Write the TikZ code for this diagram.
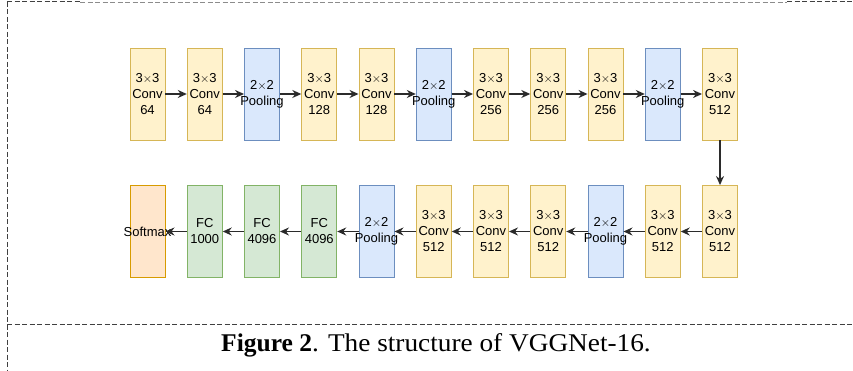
\documentclass[tikz,border=0pt]{standalone}
\usepackage{tikz}
\usetikzlibrary{arrows.meta,positioning}
\usepackage{fontspec}
\setmainfont{Liberation Serif}
\newfontfamily\boxfont{Liberation Sans}
\newfontfamily\capfont[FakeStretch=1.07]{Liberation Serif}
\usepackage{xcolor}
\definecolor{convfill}{HTML}{FFF2CC}
\definecolor{convdraw}{HTML}{D6B656}
\definecolor{poolfill}{HTML}{DAE8FC}
\definecolor{pooldraw}{HTML}{6C8EBF}
\definecolor{fcfill}{HTML}{D5E8D4}
\definecolor{fcdraw}{HTML}{82B366}
\definecolor{smfill}{HTML}{FFE6CC}
\definecolor{smdraw}{HTML}{D79B00}
\definecolor{arrowgray}{HTML}{2B2B2B}
\tikzset{layer/.style={rectangle,minimum width=35pt,minimum height=92pt,inner xsep=-12pt,
    inner ysep=0pt,align=center,line width=0.9pt,font=\boxfont\fontsize{13}{16}\selectfont}}
\tikzset{convbox/.style={layer,fill=convfill,draw=convdraw}}
\tikzset{poolbox/.style={layer,fill=poolfill,draw=pooldraw}}
\tikzset{fcbox/.style={layer,fill=fcfill,draw=fcdraw}}
\tikzset{smbox/.style={layer,fill=smfill,draw=smdraw}}
\tikzset{flow/.style={-{Stealth[length=9pt,width=8pt]},line width=1.4pt,draw=arrowgray}}
\tikzset{frame/.style={dashed,dash pattern=on 5pt off 2.5pt,line width=1pt,draw=black!75}}
\newcommand{\cv}[1]{3$\times$3\\Conv\\#1}
\newcommand{\pl}{2$\times$2\\Pooling}

\begin{document}
\begin{tikzpicture}[x=1pt,y=-1pt]
\useasboundingbox (0,0) rectangle (853,371);
% frame of the figure
\draw[frame] (7,2) -- (80,2);
\draw[frame,draw=black!45,line width=0.8pt] (80,2) -- (787,2);
\draw[frame] (787,2) -- (853,2);
\draw[frame] (7,2) -- (7,371);
\draw[frame] (7,324) -- (853,324);
%
% first row
\node (c1) [convbox] at (147.5,94) {\cv{64}};
\node (c2) [convbox] at (204.75,94) {\cv{64}};
\node (p1) [poolbox] at (262,94) {\pl};
\node (c3) [convbox] at (319.25,94) {\cv{128}};
\node (c4) [convbox] at (376.5,94) {\cv{128}};
\node (p2) [poolbox] at (433.75,94) {\pl};
\node (c5) [convbox] at (491,94) {\cv{256}};
\node (c6) [convbox] at (548.25,94) {\cv{256}};
\node (c7) [convbox] at (605.5,94) {\cv{256}};
\node (p3) [poolbox] at (662.75,94) {\pl};
\node (c8) [convbox] at (720,94) {\cv{512}};
% second row
\node (c9) [convbox] at (720,231.5) {\cv{512}};
\node (c10) [convbox] at (662.75,231.5) {\cv{512}};
\node (p4) [poolbox] at (605.5,231.5) {\pl};
\node (c11) [convbox] at (548.25,231.5) {\cv{512}};
\node (c12) [convbox] at (491,231.5) {\cv{512}};
\node (c13) [convbox] at (433.75,231.5) {\cv{512}};
\node (p5) [poolbox] at (376.5,231.5) {\pl};
\node (fc1) [fcbox] at (319.25,231.5) {FC\\4096};
\node (fc2) [fcbox] at (262,231.5) {FC\\4096};
\node (fc3) [fcbox] at (204.75,231.5) {FC\\1000};
\node (sm) [smbox] at (147.5,231.5) {Softmax};
%
\path[flow] (c1) edge (c2);
\path[flow] (c2) edge (p1);
\path[flow] (p1) edge (c3);
\path[flow] (c3) edge (c4);
\path[flow] (c4) edge (p2);
\path[flow] (p2) edge (c5);
\path[flow] (c5) edge (c6);
\path[flow] (c6) edge (c7);
\path[flow] (c7) edge (p3);
\path[flow] (p3) edge (c8);
\path[flow] (c8) edge (c9);
\path[flow] (c9) edge (c10);
\path[flow] (c10) edge (p4);
\path[flow] (p4) edge (c11);
\path[flow] (c11) edge (c12);
\path[flow] (c12) edge (c13);
\path[flow] (c13) edge (p5);
\path[flow] (p5) edge (fc1);
\path[flow] (fc1) edge (fc2);
\path[flow] (fc2) edge (fc3);
\path[flow] (fc3) edge (sm);
%
\node (caption) [font=\fontsize{25.5}{28}\selectfont,anchor=base] at (436,351)
  {\textbf{Figure 2}\capfont. The structure of VGGNet-16.};
\end{tikzpicture}
\end{document}
